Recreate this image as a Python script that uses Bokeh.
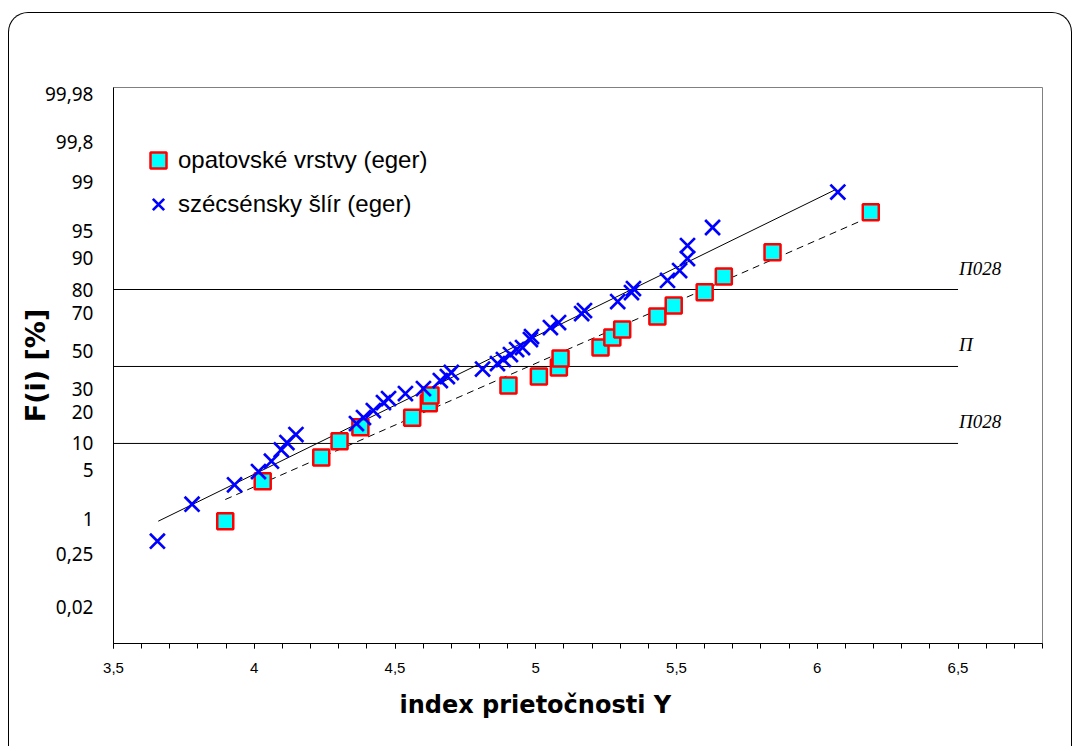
from statistics import NormalDist
from bokeh.plotting import figure
from bokeh.models import FixedTicker, Range1d, Legend, LegendItem, Title
from bokeh.core.properties import value
from bokeh.embed import file_html
from bokeh.resources import INLINE

nd = NormalDist()

# ---- axis ticks / labels ----
y_tick_pct = [0.02, 0.25, 1, 5, 10, 20, 30, 50, 70, 80, 90, 95, 99, 99.8, 99.98]
y_tick_labels = ["0,02", "0,25", "1", "5", "10", "20", "30", "50", "70", "80",
                 "90", "95", "99", "99,8", "99,98"]
x_ticks = [3.5, 4.0, 4.5, 5.0, 5.5, 6.0, 6.5]
x_tick_labels = ["3,5", "4", "4,5", "5", "5,5", "6", "6,5"]

# ---- data: x = index prietočnosti Y, z = normal quantile of F(i) ----
red_name = "opatovské vrstvy (eger)"
red_x = [3.897, 4.030, 4.238, 4.303, 4.377, 4.561, 4.620, 4.626, 4.903, 5.011, 5.082,
         5.088, 5.230, 5.272, 5.307, 5.432, 5.490, 5.600, 5.668, 5.841, 6.190]
red_z = [-2.354, -1.803, -1.476, -1.251, -1.058, -0.928, -0.727, -0.621, -0.483, -0.359,
         -0.234, -0.110, 0.041, 0.179, 0.290, 0.469, 0.621, 0.804, 1.021, 1.356, 1.908]

blue_name = "szécsénsky šlír (eger)"
blue_x = [3.656, 3.779, 3.930, 4.015, 4.061, 4.096, 4.116, 4.148, 4.363, 4.388,
          4.423, 4.459, 4.477, 4.537, 4.601, 4.661, 4.686, 4.700, 4.811, 4.864,
          4.885, 4.910, 4.932, 4.953, 4.981, 4.985, 5.052, 5.081, 5.163, 5.173,
          5.291, 5.340, 5.347, 5.468, 5.511, 5.539, 5.539, 5.628, 6.073]
blue_z = [-2.630, -2.120, -1.852, -1.669, -1.527, -1.370, -1.269, -1.159, -1.007, -0.924,
          -0.828, -0.717, -0.662, -0.593, -0.524, -0.414, -0.359, -0.303, -0.255, -0.179,
          -0.124, -0.055, 0.014, 0.041, 0.152, 0.193, 0.317, 0.386, 0.510, 0.552,
          0.676, 0.800, 0.855, 0.966, 1.103, 1.269, 1.448, 1.697, 2.186]

# fitted lines
fit_blue_x = [3.659, 6.065]
fit_blue_z = [-2.354, 2.22]
fit_red_x = [3.897, 6.190]
fit_red_z = [-2.055, 1.848]

# reference horizontal lines
hline_z = [0.8416, -0.22, -1.2816]
hline_x0 = 3.5
hline_x1 = 6.5
hline_labels = ["Π028", "Π", "Π028"]

x_title = "index prietočnosti  Y"
y_title = "F(i) [%]"

y_tick_z = [round(nd.inv_cdf(v / 100.0), 4) for v in y_tick_pct]

p = figure(width=1064, height=734,
           x_range=Range1d(3.5, 6.8), y_range=Range1d(-4.041, 3.628),
           output_backend="svg", toolbar_location=None,
           min_border_left=104, min_border_right=31, min_border_top=74, min_border_bottom=104)
p.styles = {"border-top": "1px solid #000", "border-left": "1px solid #000",
            "border-right": "1px solid #000", "border-radius": "20px 20px 0 0",
            "margin-left": "8px", "margin-top": "12px"}
p.xgrid.visible = False
p.ygrid.visible = False
p.outline_line_color = "#808080"
p.background_fill_color = "white"
p.border_fill_color = None

# x axis
p.xaxis.ticker = FixedTicker(ticks=x_ticks,
                             minor_ticks=[round(3.5 + 0.1 * i, 1) for i in range(34)])
p.xaxis.major_label_overrides = dict(zip(x_ticks, x_tick_labels))
p.xaxis.major_tick_out = 5
p.xaxis.major_tick_in = 0
p.xaxis.minor_tick_out = 5
p.xaxis.minor_tick_in = 0
p.xaxis.axis_line_color = "black"
p.xaxis.major_label_text_font = "Liberation Sans"
p.xaxis.major_label_text_font_size = "15px"
p.xaxis.major_label_text_color = "black"
p.xaxis.major_label_standoff = 14

# y axis
p.yaxis.ticker = FixedTicker(ticks=y_tick_z, minor_ticks=[])
p.yaxis.major_label_overrides = dict(zip(y_tick_z, y_tick_labels))
p.yaxis.major_tick_line_color = None
p.yaxis.minor_tick_line_color = None
p.yaxis.axis_line_color = "black"
p.yaxis.major_label_text_font = "Noto Sans"
p.yaxis.major_label_text_font_size = "19px"
p.yaxis.major_label_text_color = "black"
p.yaxis.major_label_standoff = 14
p.yaxis.axis_label = y_title
p.yaxis.axis_label_text_font = "DejaVu Sans"
p.yaxis.axis_label_text_font_style = "bold"
p.yaxis.axis_label_text_font_size = "27px"
p.yaxis.axis_label_text_color = "black"
p.yaxis.axis_label_standoff = -9

# x axis title, placed left of the frame centre as in the original
xt = Title(text=x_title, align="left", offset=286, standoff=27,
           text_font="DejaVu Sans", text_font_style="bold",
           text_font_size="24px", text_color="black")
p.add_layout(xt, "below")

# horizontal reference lines
p.segment(x0=[hline_x0] * len(hline_z), x1=[hline_x1] * len(hline_z),
          y0=hline_z, y1=hline_z, line_color="black", line_width=1)
p.text(x=[hline_x1] * len(hline_z), y=hline_z, text=hline_labels,
       text_font=value("Liberation Serif"), text_font_style="italic",
       text_font_size="19px", text_color="black",
       text_baseline="bottom", x_offset=1, y_offset=-11)

# fit lines
p.line(fit_blue_x, fit_blue_z, line_color="black", line_width=1)
p.line(fit_red_x, fit_red_z, line_color="black", line_width=1, line_dash="7 5")

# points
r_red = p.scatter(red_x, red_z, marker="square", size=16, fill_color="#00FFFF",
                  line_color="#FF0000", line_width=2.5)
r_blue = p.scatter(blue_x, blue_z, marker="x", size=21, line_color="#0000FF",
                   line_width=2.7)

legend = Legend(items=[LegendItem(label=red_name, renderers=[r_red]),
                       LegendItem(label=blue_name, renderers=[r_blue])],
                location=(25, 419), border_line_color=None, background_fill_alpha=0,
                label_text_font="Liberation Sans", label_text_font_size="24px",
                label_text_color="black",
                glyph_width=40, glyph_height=40, label_height=40, spacing=4,
                padding=0, margin=0, label_standoff=0)
p.add_layout(legend)

open("out.html", "w").write(file_html(p, INLINE))
